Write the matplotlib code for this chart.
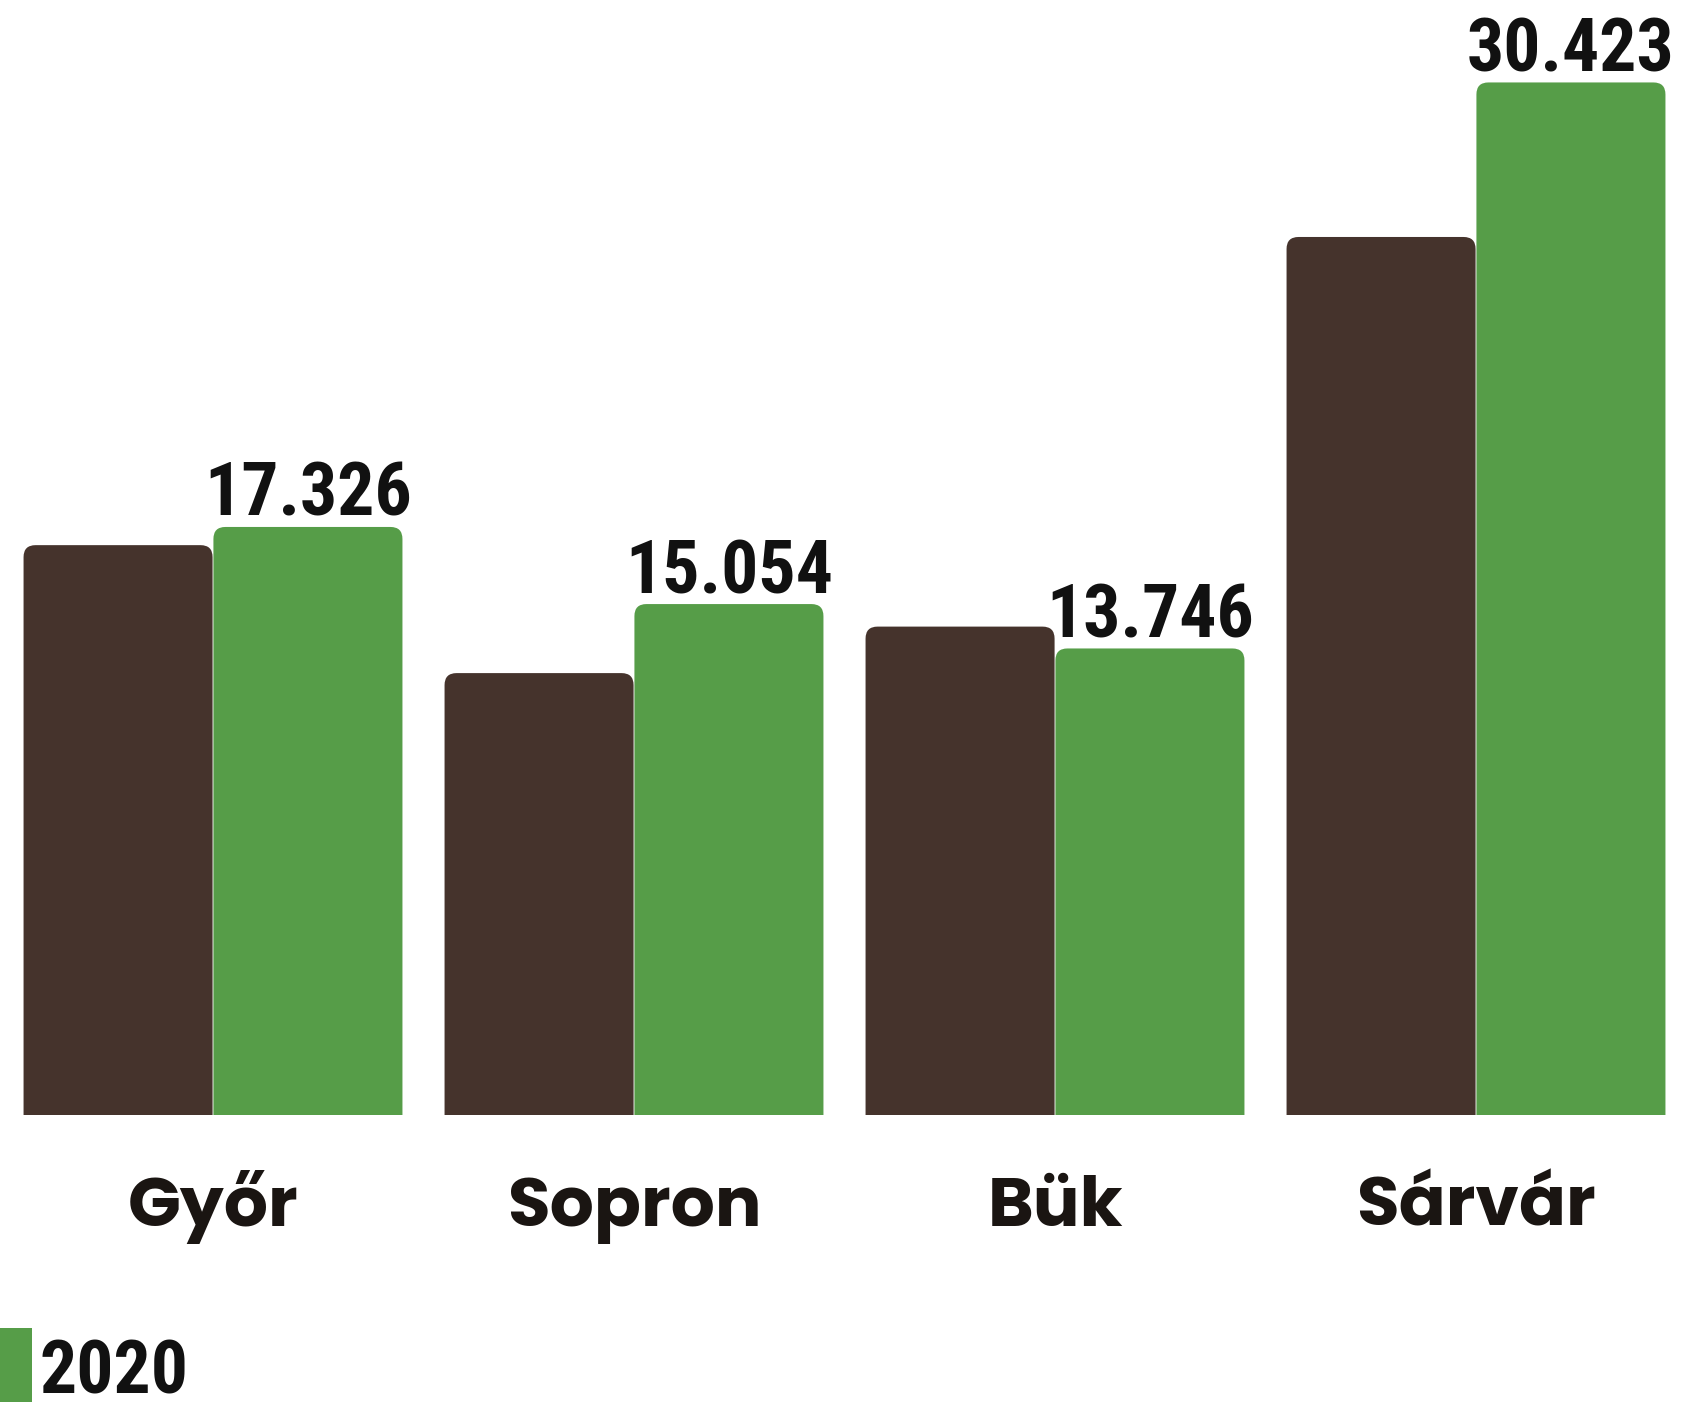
import numpy as np
import matplotlib.pyplot as plt
from matplotlib.patches import FancyBboxPatch, Rectangle

# data
cities = ["Győr", "Sopron", "Bük", "Sárvár"]
prev_year = [16.79, 13.02, 14.39, 25.87]      # brown bars, no label shown
year_2020 = [17.326, 15.054, 13.746, 30.423]  # green bars
value_labels = ["17.326", "15.054", "13.746", "30.423"]
legend_label = "2020"

BROWN = "#45332c"
GREEN = "#569d48"
INK = "#111111"

W, H, DPI = 1691, 1402, 100
fig = plt.figure(figsize=(W / DPI, H / DPI), dpi=DPI)

# axes: baseline at 1115 px from top, 33.94 px per unit, group pitch 421 px
base_px, px_per_unit, pitch = 1115, 33.94, 421
ymax = 32
ax = fig.add_axes([0, (H - base_px) / H, 1, ymax * px_per_unit / H])
ax.set_ylim(0, ymax)
ax.set_xlim(-213 / pitch, (W - 213) / pitch)
ax.axis("off")

x = np.arange(len(cities))
bw = 0.449
off = 0.2255

b1 = ax.bar(x - off, prev_year, bw, color=BROWN)
b2 = ax.bar(x + off, year_2020, bw, color=GREEN)

# swap plain bars for ones with rounded top corners; the bottom corners
# sit below the axes and get clipped away
r_px = 12
aspect = pitch / px_per_unit
for rect in list(b1) + list(b2):
    x0, y0 = rect.get_x(), rect.get_y()
    w, h = rect.get_width(), rect.get_height()
    c = rect.get_facecolor()
    rect.set_visible(False)
    ax.add_patch(FancyBboxPatch((x0, y0 - 1), w, h + 1,
                                boxstyle=f"round,pad=0,rounding_size={r_px / pitch}",
                                mutation_aspect=aspect, fc=c, ec="none"))

num_font = ["Roboto Condensed", "DejaVu Sans"]
for xi, v, lab in zip(x + off, year_2020, value_labels):
    ax.annotate(lab, (xi, v), xytext=(0, 11 * 0.72), textcoords="offset points",
                ha="center", va="baseline", fontsize=53, fontweight="bold",
                family=num_font, color=INK, annotation_clip=False)

for xi, name in zip(x, cities):
    ax.annotate(name, (xi, 0), xytext=(0, -111 * 0.72), textcoords="offset points",
                ha="center", va="baseline", fontsize=50, fontweight="bold",
                family=["Poppins", "DejaVu Sans"], color="#1a1512", annotation_clip=False)

# legend: a tall green swatch at the bottom left plus the year
fig.patches.append(Rectangle((0, 0), 32 / W, 74 / H, transform=fig.transFigure,
                             fc=GREEN, ec="none"))
fig.text(40 / W, (H - 1393) / H, legend_label, ha="left", va="baseline",
         fontsize=53, fontweight="bold", family=num_font, color=INK)

fig.savefig("out.png", dpi=DPI)
